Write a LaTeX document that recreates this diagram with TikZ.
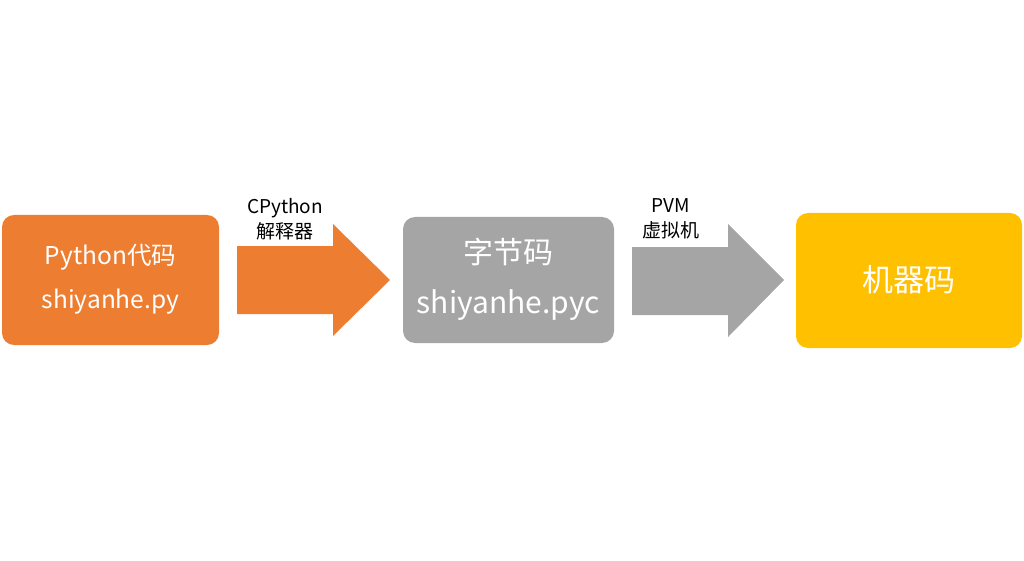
\documentclass[tikz,border=0pt]{standalone}
\usepackage{fontspec}
\setmainfont{Noto Sans CJK SC}
\definecolor{orangeA}{HTML}{ED7D31}
\definecolor{grayA}{HTML}{A5A5A5}
\definecolor{goldA}{HTML}{FFC000}
\begin{document}
\begin{tikzpicture}[x=1pt,y=-1pt,
  box/.style={rounded corners=12pt},
  boxtext/.style={text=white,inner sep=0pt,anchor=center},
  lbl/.style={text=black,font=\fontsize{19}{25}\selectfont,align=center,inner sep=0pt}]
\useasboundingbox (0,0) rectangle (1024,561);
% boxes
\fill[orangeA,box] (2,215) rectangle (219,345);
\node[boxtext,font=\fontsize{24.5}{28}\selectfont] (b1a) at (110.5,257) {Python代码};
\node[boxtext,font=\fontsize{24.5}{28}\selectfont] (b1b) at (110.5,302) {shiyanhe.py};
\fill[grayA,box] (403,217) rectangle (614,343);
\node[boxtext,font=\fontsize{30}{34}\selectfont] (b2a) at (508.5,252) {字节码};
\node[boxtext,font=\fontsize{30}{34}\selectfont] (b2b) at (508.5,305) {shiyanhe.pyc};
\fill[goldA,box] (796,213) rectangle (1022,348);
\node[boxtext,font=\fontsize{31}{34}\selectfont] (b3) at (909,280) {机器码};
% arrows
\fill[orangeA] (237,246) -- (333,246) -- (333,224) -- (390,280) -- (333,336) -- (333,314) -- (237,314) -- cycle;
\fill[grayA] (632,247) -- (728,247) -- (728,224) -- (784,280) -- (728,337) -- (728,315) -- (632,315) -- cycle;
\node[lbl] (l1) at (285,219) {CPython\\解释器};
\node[lbl] (l2) at (671,219) {PVM\\虚拟机};
\end{tikzpicture}
\end{document}
